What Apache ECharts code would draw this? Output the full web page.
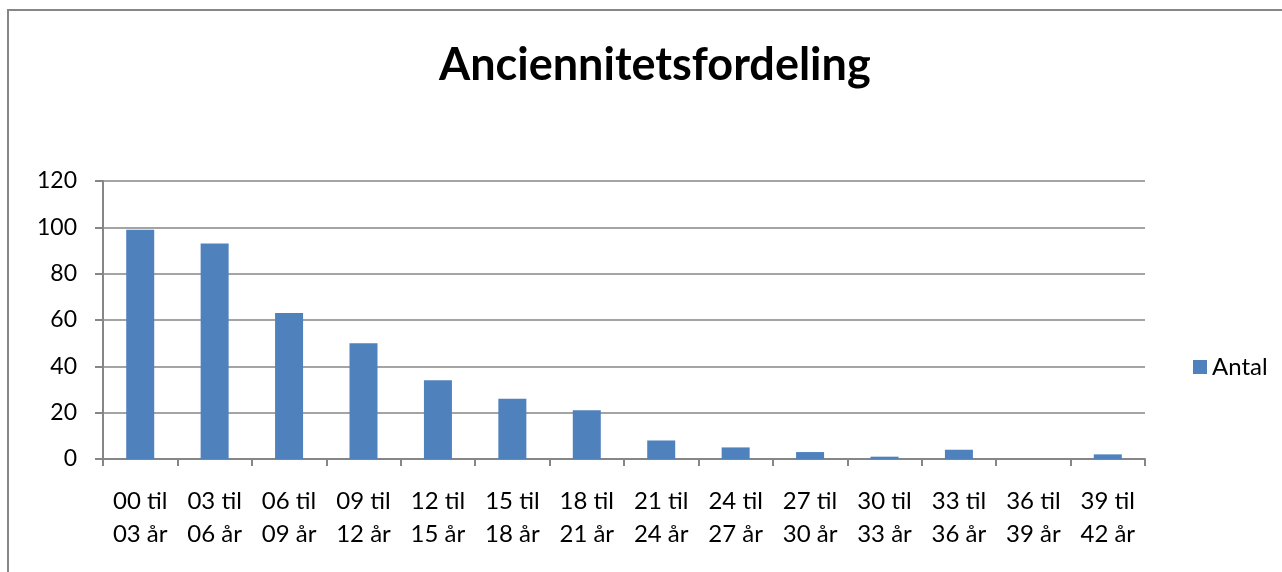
<!DOCTYPE html>
<html>
<head>
<meta charset="utf-8">
<script src="https://cdn.jsdelivr.net/npm/echarts@6/dist/echarts.min.js"></script>
<style>
html,body{margin:0;padding:0;background:#fff;}
#frame{position:absolute;left:7px;top:9px;width:1290px;height:600px;border-left:2px solid #868686;border-top:2px solid #868686;box-sizing:border-box;}
#c{position:absolute;left:0;top:0;width:1282px;height:572px;}
</style>
</head>
<body>
<div id="frame"></div>
<div id="c"></div>
<script>
const title = 'Anciennitetsfordeling';
const seriesName = 'Antal';
const categories = ['00 til\n03 år','03 til\n06 år','06 til\n09 år','09 til\n12 år','12 til\n15 år','15 til\n18 år','18 til\n21 år','21 til\n24 år','24 til\n27 år','27 til\n30 år','30 til\n33 år','33 til\n36 år','36 til\n39 år','39 til\n42 år'];
const values = [99, 93, 63, 50, 34, 26, 21, 8, 5, 3, 1, 4, 0, 2];
const yTicks = {min: 0, max: 120, interval: 20};

const FONT = 'Lato';
const chart = echarts.init(document.getElementById('c'), null, {renderer: 'canvas'});
chart.setOption({
  animation: false,
  backgroundColor: 'transparent',
  title: {
    text: title, left: 434, top: 38,
    textStyle: {fontFamily: FONT, fontWeight: 'bold', fontSize: 45, color: '#000'}
  },
  legend: {
    left: 1188, top: 350, itemWidth: 14, itemHeight: 14, itemGap: 8,
    icon: 'rect',
    textStyle: {fontFamily: FONT, fontSize: 24, color: '#000'},
    data: [seriesName]
  },
  grid: {left: 103, right: 137, top: 181, bottom: 113, containLabel: false},
  xAxis: {
    type: 'category', data: categories, boundaryGap: true,
    axisLine: {lineStyle: {color: '#868686', width: 2}},
    axisTick: {show: true, length: 7, alignWithLabel: false, lineStyle: {color: '#868686', width: 2}},
    axisLabel: {fontFamily: FONT, fontSize: 24, color: '#000', lineHeight: 33, margin: 26, interval: 0}
  },
  yAxis: {
    type: 'value', min: yTicks.min, max: yTicks.max, interval: yTicks.interval,
    axisLine: {show: true, lineStyle: {color: '#868686', width: 2}},
    axisTick: {show: true, length: 8, lineStyle: {color: '#868686', width: 2}},
    axisLabel: {fontFamily: FONT, fontSize: 23, color: '#000', margin: 26},
    splitLine: {lineStyle: {color: '#868686', width: 1.5}}
  },
  series: [{
    name: seriesName, type: 'bar', data: values,
    barWidth: 28,
    itemStyle: {color: '#4F81BD'}
  }]
});
</script>
</body>
</html>
